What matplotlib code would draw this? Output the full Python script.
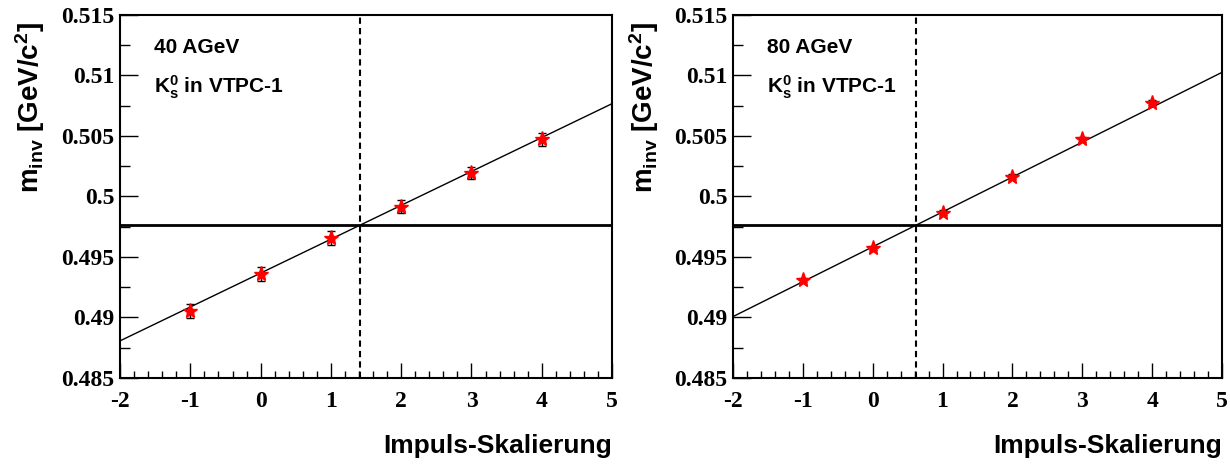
import matplotlib.pyplot as plt
import numpy as np
from matplotlib.ticker import MultipleLocator

# Datos
skalierung = [-1, 0, 1, 2, 3, 4]

minv_40 = [0.49054, 0.49360, 0.49657, 0.49916, 0.50192, 0.50473]
err_40 = [0.00060, 0.00057, 0.00054, 0.00054, 0.00050, 0.00052]

minv_80 = [0.49310, 0.49572, 0.49866, 0.50164, 0.50473, 0.50775]
err_80 = [0.00020, 0.00018, 0.00020, 0.00020, 0.00022, 0.00022]

# Parametros de la recta de ajuste (pendiente, ordenada)
fit_40 = [0.00280, 0.49367]
fit_80 = [0.002884, 0.49584]

m_k0 = 0.497648

paneles = [
    ('40 AGeV', skalierung, minv_40, err_40, fit_40),
    ('80 AGeV', skalierung, minv_80, err_80, fit_80),
]

plt.rcParams['mathtext.fontset'] = 'custom'
plt.rcParams['mathtext.bf'] = 'Liberation Sans:bold'
plt.rcParams['mathtext.rm'] = 'Liberation Sans'
plt.rcParams['mathtext.it'] = 'Liberation Sans:italic'

fig = plt.figure(figsize=(12.3, 4.68), dpi=100)
posiciones = [[0.0976, 0.1923, 0.400, 0.7757],
              [0.5959, 0.1923, 0.3976, 0.7757]]

fuente_num = {'family': 'Liberation Serif', 'weight': 'bold', 'size': 17}
fuente_txt = {'family': 'Liberation Sans', 'weight': 'bold'}

for pos, (energia, x, y, err, fit) in zip(posiciones, paneles):
    ax = fig.add_axes(pos)
    ax.set_xlim(-2, 5)
    ax.set_ylim(0.485, 0.515)

    # recta de ajuste
    xs = np.array([-2, 5])
    ax.plot(xs, fit[0] * xs + fit[1], color='black', linewidth=1.0, zorder=2)

    # masa nominal y cruce
    ax.axhline(m_k0, color='black', linewidth=2.0, zorder=2)
    x_cruce = (m_k0 - fit[1]) / fit[0]
    ax.axvline(x_cruce, color='black', linewidth=1.5, linestyle=(0, (3, 2)), zorder=2)

    # puntos
    ax.errorbar(x, y, yerr=err, fmt='none', ecolor='black', elinewidth=1.0,
                capsize=3, capthick=1.0, zorder=3)
    ax.plot(x, y, linestyle='none', marker='*', color='red', markersize=11,
            markeredgecolor='red', zorder=4)

    ax.xaxis.set_major_locator(MultipleLocator(1))
    ax.xaxis.set_minor_locator(MultipleLocator(0.2))
    ax.yaxis.set_major_locator(MultipleLocator(0.005))
    ax.yaxis.set_minor_locator(MultipleLocator(0.0025))
    ax.tick_params(axis='both', which='both', direction='in', top=False, right=False)
    ax.tick_params(axis='x', which='major', length=11, width=1.0, pad=9)
    ax.tick_params(axis='x', which='minor', length=5, width=1.0)
    ax.tick_params(axis='y', which='major', length=13, width=1.0, pad=4)
    ax.tick_params(axis='y', which='minor', length=7, width=1.0)

    ax.set_xticks(range(-2, 6))
    ax.set_xticklabels([str(v) for v in range(-2, 6)], fontdict=fuente_num)
    yt = [0.485, 0.49, 0.495, 0.5, 0.505, 0.51, 0.515]
    ax.set_yticks(yt)
    ax.set_yticklabels(['0.485', '0.49', '0.495', '0.5', '0.505', '0.51', '0.515'],
                       fontdict=fuente_num)

    for s in ax.spines.values():
        s.set_linewidth(1.5)

    ax.text(0.07, 0.91, energia, transform=ax.transAxes, fontsize=15,
            ha='left', va='center', **fuente_txt)
    ax.text(0.07, 0.80, r'$\mathbf{K^0_s}$ in VTPC-1', transform=ax.transAxes,
            fontsize=15, ha='left', va='center', **fuente_txt)

    ax.set_ylabel(r'$\mathbf{m_{inv}}$ [GeV/c$\mathbf{^2}$]', fontsize=20, **fuente_txt)
    ax.yaxis.set_label_coords(-0.148, 0.745)
    ax.set_xlabel('Impuls-Skalierung', fontsize=19, **fuente_txt)
    ax.xaxis.set_label_coords(1.0, -0.155)
    ax.xaxis.label.set_horizontalalignment('right')

fig.savefig('out.png', dpi=100)
